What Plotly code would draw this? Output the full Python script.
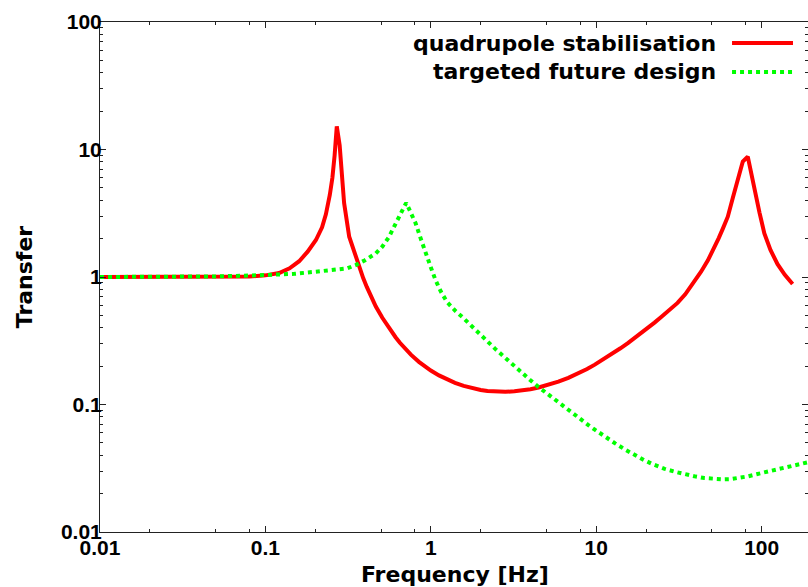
import plotly.graph_objects as go

# ---- data ----
freq_quad = [0.01, 0.02, 0.05, 0.08, 0.1, 0.121, 0.14, 0.16, 0.18, 0.202, 0.22, 0.232, 0.245,
             0.254, 0.262, 0.270, 0.281, 0.29, 0.299, 0.321, 0.345, 0.368, 0.39, 0.41, 0.43,
             0.465, 0.509, 0.56, 0.612, 0.65, 0.704, 0.76, 0.847, 0.92, 1.0, 1.12, 1.25, 1.4,
             1.58, 1.77, 2.0, 2.2, 2.5, 2.82, 3.2, 3.5, 4.0, 4.48, 5.2, 5.9, 6.78, 7.8, 8.8,
             9.8, 11, 12.5, 14, 15.6, 17.5, 20, 22.5, 25, 28, 31, 34.5, 39, 43, 47.3, 51, 55,
             58.5, 62.4, 67, 71.6, 76.9, 82.4, 90.3, 97, 103.8, 113, 124.7, 138, 153.8]
transfer_quad = [1.0, 1.0, 1.0, 1.01, 1.03, 1.075, 1.17, 1.33, 1.58, 1.95, 2.45, 3.1, 4.4,
                 6.0, 9.0, 15.2, 10.8, 6.1, 3.8, 2.07, 1.55, 1.2, 0.98, 0.836, 0.724,
                 0.586, 0.479, 0.395, 0.337, 0.305, 0.271, 0.245, 0.216, 0.199, 0.1846, 0.169,
                 0.157, 0.148, 0.140, 0.1343, 0.130, 0.1278, 0.1262, 0.1259, 0.1268, 0.1283,
                 0.1318, 0.136, 0.143, 0.151, 0.162, 0.1755, 0.190, 0.2055, 0.225, 0.250, 0.276,
                 0.304, 0.339, 0.388, 0.439, 0.492, 0.557, 0.626, 0.731, 0.906, 1.10, 1.35, 1.63,
                 2.02, 2.43, 2.97, 4.2, 5.77, 8.04, 8.8, 4.82, 3.2, 2.2, 1.63, 1.26, 1.04, 0.88]

freq_future = [0.01, 0.02, 0.05, 0.101, 0.15, 0.202, 0.26, 0.313, 0.351, 0.40, 0.465, 0.51,
               0.558, 0.60, 0.641, 0.675, 0.71, 0.76, 0.809, 0.87, 0.929, 1.0, 1.067, 1.15, 1.25,
               1.33, 1.41, 1.55, 1.7, 1.95, 2.2, 2.45, 2.82, 3.1, 3.5, 4.0, 4.48, 5.0, 5.5, 6.1,
               6.78, 7.3, 8, 9, 9.8, 11, 13, 15, 17.1, 19.5, 22, 25.9, 30.5, 35, 40, 45, 51.9,
               58, 65, 73, 82.4, 93, 105, 118, 130.6, 155, 180.7, 195]
transfer_future = [1.0, 1.0, 1.01, 1.036, 1.06, 1.10, 1.13, 1.17, 1.24, 1.355, 1.533, 1.737,
                   2.06, 2.45, 2.94, 3.36, 3.82, 3.14, 2.64, 1.99, 1.53, 1.19, 0.947, 0.768, 0.639,
                   0.58, 0.54, 0.485, 0.431, 0.363, 0.312, 0.273, 0.232, 0.207, 0.18, 0.155, 0.137,
                   0.1225, 0.111, 0.1, 0.09, 0.0837, 0.0767, 0.0687, 0.0635, 0.0572, 0.0496, 0.0442,
                   0.04, 0.0366, 0.034, 0.0313, 0.0295, 0.0282, 0.0272, 0.0265, 0.0261, 0.0259,
                   0.026, 0.0265, 0.0273, 0.0284, 0.0295, 0.0305, 0.0313, 0.0329, 0.0345, 0.0355]

series_names = ["quadrupole stabilisation", "targeted future design"]
tick_values = [0.01, 0.1, 1, 10, 100]
tick_labels = ["0.01", "0.1", "1", "10", "100"]
x_minor = [m * d for d in [0.01, 0.1, 1, 10, 100] for m in (2, 5, 8)]
y_minor = [m * d for d in [0.01, 0.1, 1, 10] for m in range(2, 10)]

RED = "#ff0000"
GREEN = "#00ff00"
AX = "#222222"
FONT = "Liberation Sans, Arial, sans-serif"
TFONT = "DejaVu Sans, sans-serif"

fig = go.Figure()
fig.add_trace(go.Scatter(x=freq_quad, y=transfer_quad, mode="lines", name=series_names[0],
                         line=dict(color=RED, width=4), showlegend=False))
fig.add_trace(go.Scatter(x=freq_future, y=transfer_future, mode="lines", name=series_names[1],
                         line=dict(color=GREEN, width=4, dash="dot"), showlegend=False))

axis_common = dict(
    type="log", showgrid=False, zeroline=False, showline=True, linecolor=AX, linewidth=1,
    mirror="allticks", ticks="inside", ticklen=6, tickcolor=AX, tickwidth=1, automargin=False,
    tickmode="array", tickvals=tick_values, ticktext=tick_labels,
    tickfont=dict(family=FONT, size=21, color="black", weight="bold"),
)

fig.update_xaxes(**axis_common, range=[-2, 2.28], ticklabelstandoff=-3,
                 minor=dict(tickmode="array", tickvals=x_minor, ticks="inside", ticklen=3,
                            tickcolor=AX, tickwidth=1))
fig.update_yaxes(**axis_common, range=[-2, 2], ticklabelstandoff=-7,
                 minor=dict(tickmode="array", tickvals=y_minor, ticks="inside", ticklen=3,
                            tickcolor=AX, tickwidth=1))

title_font = dict(family=TFONT, size=22, color="black", weight="bold")
fig.add_annotation(xref="paper", yref="paper", x=0.5014, y=-0.0824, text="Frequency [Hz]",
                   showarrow=False, xanchor="center", yanchor="middle", font=title_font)
fig.add_annotation(xref="paper", yref="paper", x=-0.1071, y=0.5, text="Transfer", textangle=-90,
                   showarrow=False, xanchor="center", yanchor="middle", font=title_font)

# gnuplot-style legend: text on the left, line sample on the right
for name, yp, col, dash in [(series_names[0], 0.9588, RED, "solid"),
                            (series_names[1], 0.902, GREEN, "dot")]:
    fig.add_annotation(xref="paper", yref="paper", x=0.873, y=yp, text=name, showarrow=False,
                       xanchor="right", yanchor="middle", font=title_font)
    fig.add_shape(type="line", xref="paper", yref="paper", x0=0.8927, x1=0.9788, y0=yp, y1=yp,
                  line=dict(color=col, width=4, dash=dash))

fig.update_layout(
    width=808, height=587,
    margin=dict(l=100, r=0, t=22, b=55),
    paper_bgcolor="white", plot_bgcolor="white",
    font=dict(family=FONT, color="black"),
)

fig.write_html("out.html", config={"displayModeBar": False},
               post_script="document.body.style.margin='0';document.body.style.overflow='hidden';")
